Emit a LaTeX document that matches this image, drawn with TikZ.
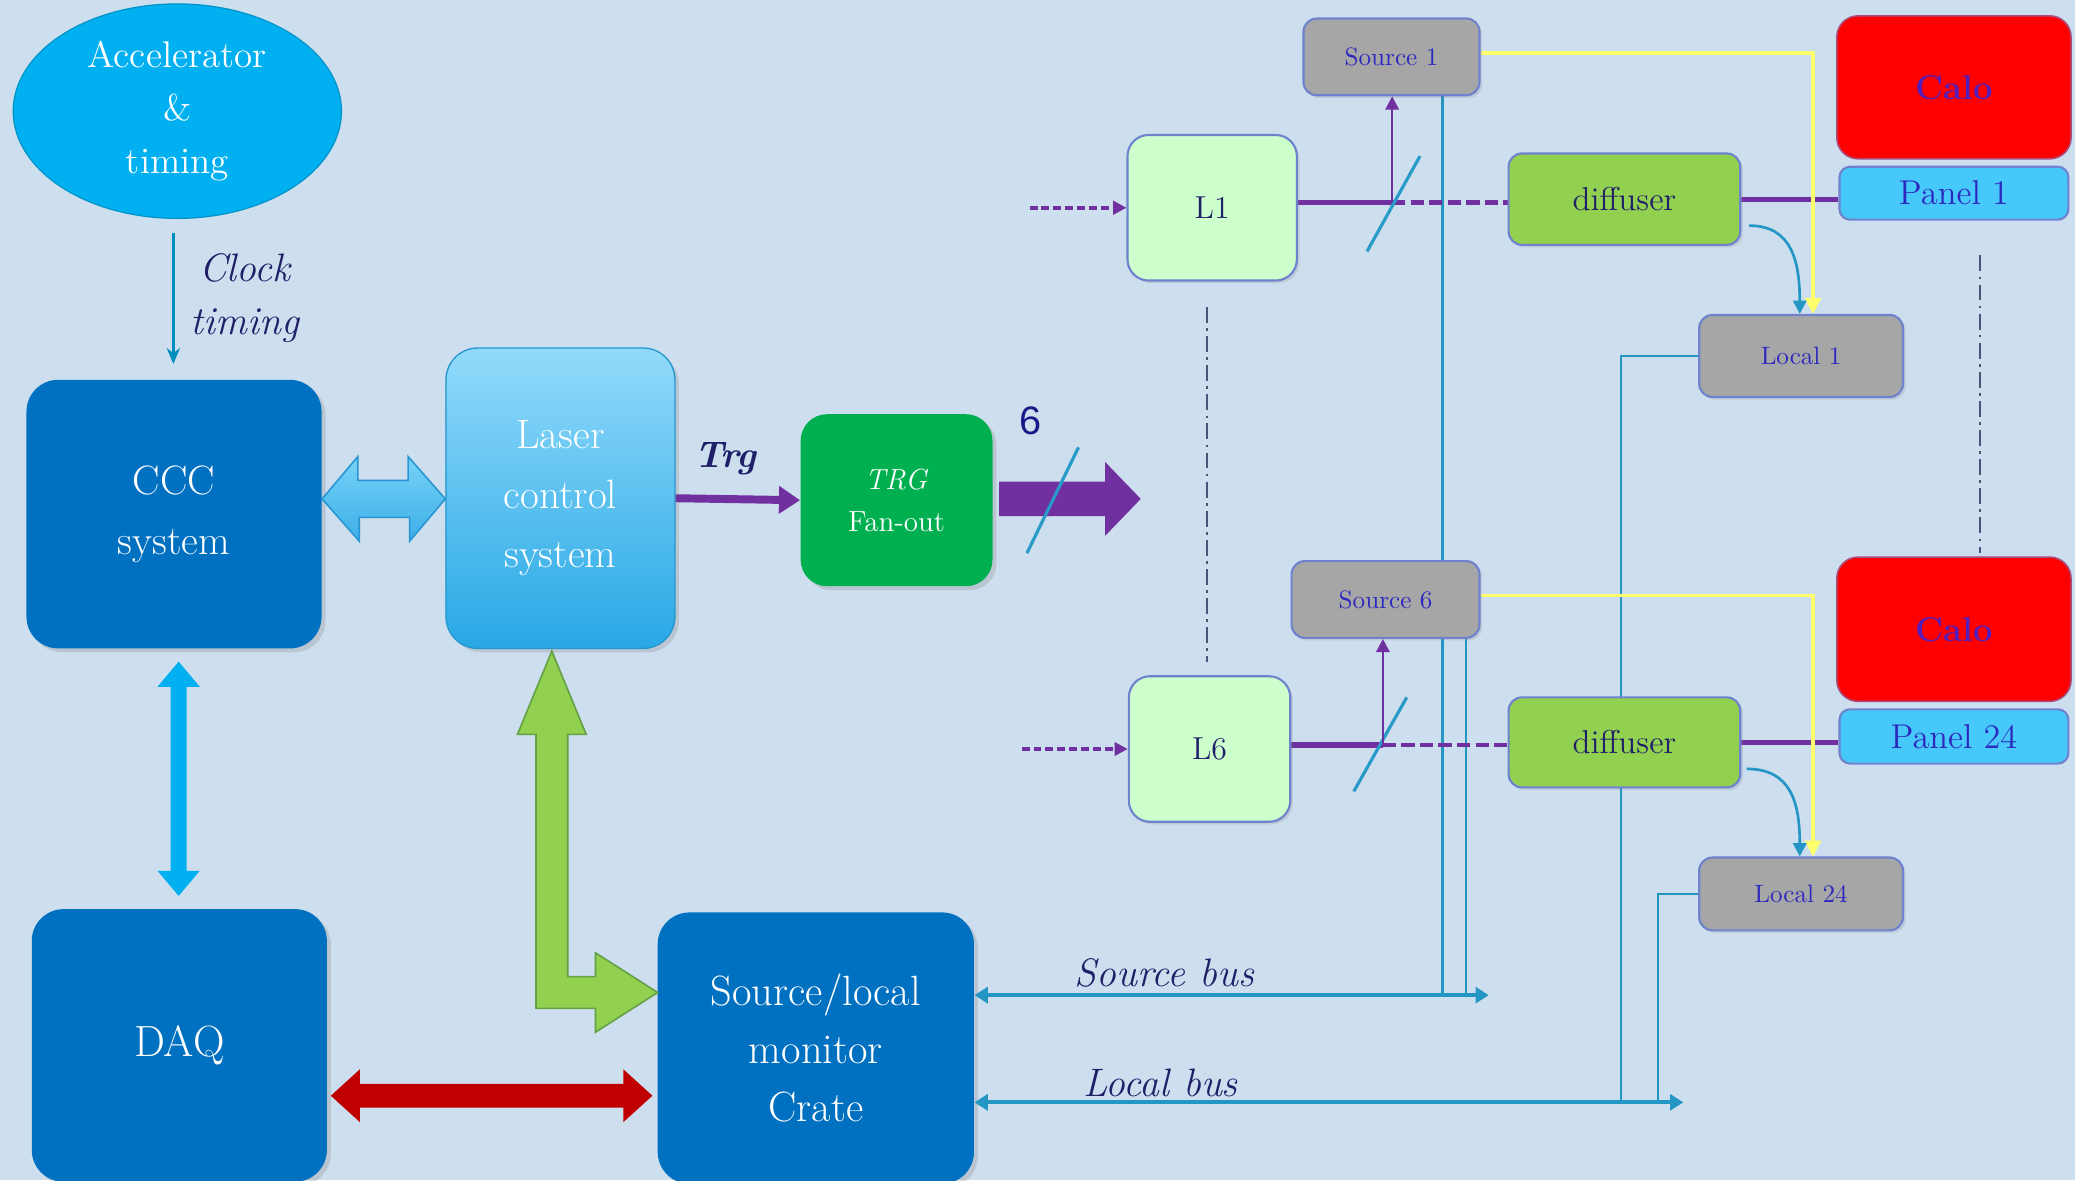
\documentclass[tikz,border=0pt]{standalone}
\usepackage{fontspec}
\newfontfamily\sixfont{Liberation Sans}
\usetikzlibrary{arrows.meta,shapes.geometric,calc,shadows}
\pgfdeclarelayer{back}
\pgfdeclarelayer{wires}
\pgfsetlayers{back,wires,main}
\definecolor{bgcol}{RGB}{205,222,238}
\definecolor{accblue}{RGB}{0,176,240}
\definecolor{boxblue}{RGB}{0,112,192}
\definecolor{laserTop}{RGB}{146,218,250}
\definecolor{laserBot}{RGB}{40,168,230}
\definecolor{trggreen}{RGB}{0,176,80}
\definecolor{purp}{RGB}{112,48,160}
\definecolor{calotext}{RGB}{85,30,185}
\definecolor{tealc}{RGB}{35,150,196}
\definecolor{splitc}{RGB}{40,155,200}
\definecolor{redarr}{RGB}{192,0,0}
\definecolor{greenarr}{RGB}{146,208,80}
\definecolor{greenedge}{RGB}{100,160,70}
\definecolor{lbTop}{RGB}{120,210,248}
\definecolor{lbBot}{RGB}{60,175,232}
\definecolor{lbEdge}{RGB}{40,150,210}
\definecolor{grayc}{RGB}{166,166,166}
\definecolor{edgec}{RGB}{110,130,205}
\definecolor{lgreen}{RGB}{204,255,204}
\definecolor{difgreen}{RGB}{146,208,80}
\definecolor{panelc}{RGB}{70,200,250}
\definecolor{navy}{RGB}{32,32,105}
\definecolor{smalltext}{RGB}{45,40,190}
\definecolor{yell}{RGB}{255,255,110}
\definecolor{dashc}{RGB}{70,85,120}
\begin{document}
\begin{tikzpicture}[x=0.5pt,y=-0.5pt,
  bigbox/.style={rounded corners=12pt, fill=boxblue, text=white, align=center, inner sep=0pt,
     drop shadow={shadow xshift=1.5pt, shadow yshift=-1.5pt, opacity=0.25}},
  lbox/.style={rounded corners=8pt, fill=lgreen, draw=edgec, line width=0.8pt, text=navy, inner sep=0pt,
     font=\fontsize{12}{14}\selectfont, drop shadow={shadow xshift=1pt, shadow yshift=-1pt, opacity=0.2}},
  gbox/.style={rounded corners=5pt, fill=grayc, draw=edgec, line width=0.8pt, text=smalltext, inner sep=0pt,
     font=\fontsize{9.5}{11}\selectfont, drop shadow={shadow xshift=1pt, shadow yshift=-1pt, opacity=0.2}},
  difbox/.style={rounded corners=5pt, fill=difgreen, draw=edgec, line width=0.8pt, text=navy, inner sep=0pt,
     font=\fontsize{12.5}{14}\selectfont, drop shadow={shadow xshift=1pt, shadow yshift=-1pt, opacity=0.2}},
  calobox/.style={rounded corners=8pt, fill=red, draw=edgec!60!red, line width=0.6pt, text=calotext, inner sep=0pt,
     font=\fontsize{13}{15}\selectfont\bfseries},
  panbox/.style={rounded corners=4pt, fill=panelc, draw=edgec, line width=0.8pt, text=smalltext, inner sep=0pt,
     font=\fontsize{13}{15}\selectfont},
  lbl/.style={text=navy, font=\fontsize{15}{20}\selectfont\itshape, align=center, inner sep=0pt},
  purpline/.style={draw=purp, line width=2pt},
  entry/.style={draw=purp, line width=1.5pt, dash pattern=on 3pt off 1.5pt, -{Triangle[length=5pt,width=5pt]}},
  splitter/.style={draw=splitc, line width=1.2pt},
  bus/.style={draw=tealc, line width=1.5pt, {Triangle[length=5pt,width=6pt]}-{Triangle[length=5pt,width=6pt]}},
  busv/.style={draw=tealc, line width=0.8pt},
  yline/.style={draw=yell, line width=1.2pt, -{Triangle[length=6pt,width=6pt]}},
  dashdot/.style={draw=dashc, line width=0.6pt, dash pattern=on 6pt off 2pt on 1pt off 2pt}
]
\begin{pgfonlayer}{back}
\fill[bgcol] (0,0) rectangle (1568,892);
\end{pgfonlayer}
\useasboundingbox (0,0) rectangle (1568,892);

% ---------- left part nodes ----------
\node[ellipse, fill=accblue, draw=accblue!85!black, line width=0.5pt, minimum width=124pt, minimum height=81pt,
  text=white, align=center, inner sep=0pt, font=\fontsize{14}{20}\selectfont] (acc) at (134,84) {Accelerator\\\&\\timing};
\node[bigbox, minimum width=111.5pt, minimum height=101.5pt, font=\fontsize{15.5}{22.5}\selectfont] (ccc) at (131.5,388.5) {CCC\\system};
\node[bigbox, minimum width=111.5pt, minimum height=103pt, font=\fontsize{16.5}{20}\selectfont] (daq) at (135.5,790) {DAQ};
\node[bigbox, top color=laserTop, bottom color=laserBot, draw=laserBot!90!black, line width=0.5pt,
  minimum width=86.5pt, minimum height=113.5pt, font=\fontsize{15.5}{22.5}\selectfont] (laser) at (423.5,376.5) {Laser\\control\\system};
\node[rounded corners=10pt, fill=trggreen, text=white, align=center, inner sep=0pt, minimum width=72.5pt, minimum height=65pt,
  font=\fontsize{11}{16}\selectfont, drop shadow={shadow xshift=1.5pt, shadow yshift=-1.5pt, opacity=0.25}] (trg) at (677.5,378) {\textit{TRG}\\Fan-out};
\node[bigbox, minimum width=119.5pt, minimum height=102.5pt, font=\fontsize{16}{22}\selectfont] (crate) at (616.5,792) {Source/local\\monitor\\Crate};

% ---------- right part nodes ----------
\node[lbox, minimum width=64pt, minimum height=55pt] (L1) at (916,157) {L1};
\node[lbox, minimum width=61pt, minimum height=55pt] (L6) at (914,566) {L6};
\node[gbox, minimum width=66.5pt, minimum height=29pt] (src1) at (1051.5,43) {Source 1};
\node[gbox, minimum width=71pt, minimum height=29pt] (src6) at (1047,453) {Source 6};
\node[difbox, minimum width=87.5pt, minimum height=34.5pt] (dif1) at (1227.5,150.5) {diffuser};
\node[difbox, minimum width=87.5pt, minimum height=34pt] (dif6) at (1227.5,561) {diffuser};
\node[calobox, minimum width=88.5pt, minimum height=54pt] (calo1) at (1476.5,66) {Calo};
\node[calobox, minimum width=88.5pt, minimum height=54.5pt] (calo24) at (1476.5,475.5) {Calo};
\node[panbox, minimum width=86.5pt, minimum height=20pt] (pan1) at (1476.5,146) {Panel 1};
\node[panbox, minimum width=86.5pt, minimum height=20.5pt] (pan24) at (1476.5,556.5) {Panel 24};
\node[gbox, minimum width=77pt, minimum height=31pt] (loc1) at (1361,269) {Local 1};
\node[gbox, minimum width=77pt, minimum height=27.5pt] (loc24) at (1361,675.5) {Local 24};

% ---------- labels ----------
\node[lbl] (clk) at (185,225) {Clock\\timing};
\node[text=navy, font=\fontsize{14}{16}\selectfont\bfseries\itshape, inner sep=0pt] (trglbl) at (548,347) {Trg};
\node[text=navy!80!blue, font=\fontsize{15}{16}\sixfont, inner sep=0pt] (six) at (779,318) {6};
\node[lbl] (sbl) at (880,735) {Source bus};
\node[lbl] (lbl) at (877,818) {Local bus};

% ---------- left connectors ----------
\coordinate (ck1) at (131,176);
\coordinate (ck2) at (131,275);
\draw[draw=accblue!80!black, line width=1pt, -{Stealth[length=6pt,width=5pt]}] (ck1) -- (ck2);

% CCC <-> Laser hollow double arrow
\filldraw[top color=lbTop, bottom color=lbBot, draw=lbEdge, line width=0.6pt]
  (ccc.east|-0,377) -- ++(27,-32) -- ++(0,18) -- ++(38,0) -- ++(0,-18) -- (laser.west|-0,377)
  -- ++(-27,32) -- ++(0,-18) -- ++(-38,0) -- ++(0,18) -- cycle;

% CCC <-> DAQ
\fill[accblue] (135,500) -- (151,519) -- (141,519) -- (141,658) -- (151,658) -- (135,677)
  -- (119,658) -- (129,658) -- (129,519) -- (119,519) -- cycle;

% DAQ <-> crate (red)
\fill[redarr] (250,828) -- (272,808) -- (272,819) -- (471,819) -- (471,808) -- (493,828)
  -- (471,848) -- (471,837) -- (272,837) -- (272,848) -- cycle;

% Laser <-> crate (green L)
\filldraw[fill=greenarr, draw=greenedge, line width=0.6pt]
  (417,492) -- (443,555) -- (429,555) -- (429,738) -- (450,738) -- (450,720) -- (497,750)
  -- (450,780) -- (450,762) -- (405,762) -- (405,555) -- (391,555) -- cycle;

% Trg
\draw[draw=purp, line width=3pt, -{Triangle[length=8pt,width=10pt]}] (laser.east) -- (trg.west);

% big purple arrow out of fan-out
\fill[purp] (755,364) -- (835,364) -- (835,349) -- (862,377) -- (835,405) -- (835,390) -- (755,390) -- cycle;
\draw[splitter] (776,418) -- (815,338);

% ---------- right connectors ----------
\coordinate (sp1) at (1052,153);
\coordinate (sp6) at (1045,563);
\coordinate (in1) at (778,157);
\coordinate (in6) at (772,566);
\draw[entry] (in1) -- (L1.west);
\draw[entry] (in6) -- (L6.west);

\coordinate (v1) at (1090,752);
\coordinate (v6) at (1108,752);
\coordinate (w1) at (1225,833);
\coordinate (w24) at (1253,833);
\coordinate (sbE) at (1125,752);
\coordinate (lbE) at (1272,833);

\begin{pgfonlayer}{wires}
\draw[busv] (v1|-src1.south) -- (v1);
\draw[busv] (v6|-src6.south) -- (v6);
\draw[busv] (loc1.west) -| (w1);
\draw[busv] (loc24.west) -| (w24);
\draw[purpline] (L1.east|-sp1) -- (sp1);
\draw[purpline, line width=1.8pt, dash pattern=on 5pt off 2pt] (sp1) -- (dif1.west|-sp1);
\draw[purpline] (L6.east|-sp6) -- (sp6);
\draw[purpline, line width=1.8pt, dash pattern=on 5pt off 2pt] (sp6) -- (dif6.west|-sp6);
\draw[purpline] (dif1.east) -- (dif1.east-|pan1.west);
\draw[purpline] (dif6.east) -- (dif6.east-|pan24.west);
\draw[yline] ($(src1.east)+(0,-3)$) -| ($(loc1.north)+(9,0)$);
\draw[yline] ($(src6.east)+(0,-3)$) -| ($(loc24.north)+(9,0)$);
\draw[dashdot] (912,232) -- (912,500);
\draw[dashdot] (1496,193) -- (1496,418);
\end{pgfonlayer}

\draw[bus] (crate.east|-sbE) -- (sbE);
\draw[bus] (crate.east|-lbE) -- (lbE);

\draw[splitter] ($(sp1)+(-19,37)$) -- ($(sp1)+(21,-35)$);
\draw[splitter] ($(sp6)+(-22,35)$) -- ($(sp6)+(18,-36)$);
\draw[draw=purp, line width=1pt, -{Triangle[length=5pt,width=5pt]}] (sp1) -- (sp1|-src1.south);
\draw[draw=purp, line width=1pt, -{Triangle[length=5pt,width=5pt]}] (sp6) -- (sp6|-src6.south);

\draw[draw=tealc, line width=1pt, -{Triangle[length=5pt,width=5pt]}]
  ($(dif1.east)+(6,20)$) .. controls +(32,0) and +(0,-40) .. ($(loc1.north)+(-1,0)$);
\draw[draw=tealc, line width=1pt, -{Triangle[length=5pt,width=5pt]}]
  ($(dif6.east)+(4,20)$) .. controls +(34,0) and +(0,-40) .. ($(loc24.north)+(-1,0)$);
\end{tikzpicture}
\end{document}
